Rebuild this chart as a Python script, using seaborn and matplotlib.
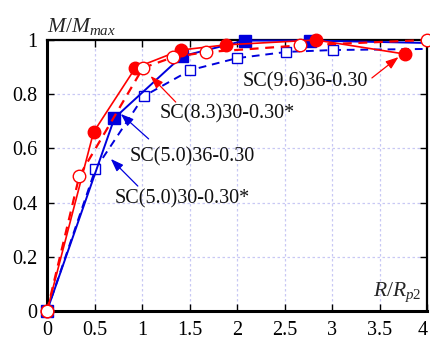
import matplotlib
matplotlib.use("Agg")
import matplotlib.pyplot as plt
import matplotlib.transforms as mtransforms
import seaborn as sns
import pandas as pd

# ---- data ----
x_96_36 = [0, 0.49, 0.93, 1.41, 1.88, 2.83, 3.77]
y_96_36 = [0, 0.66, 0.897, 0.963, 0.982, 1.0, 0.948]

x_83_30 = [0, 0.34, 1.01, 1.33, 1.67, 2.66, 4.0]
y_83_30 = [0, 0.498, 0.897, 0.937, 0.955, 0.98, 1.0]

x_50_36 = [0, 0.71, 1.42, 2.08, 2.77, 4.0]
y_50_36 = [0, 0.712, 0.94, 0.998, 0.998, 0.989]

x_50_30 = [0, 0.51, 1.02, 1.51, 2.0, 2.52, 3.01, 4.0]
y_50_30 = [0, 0.524, 0.793, 0.889, 0.933, 0.956, 0.963, 0.967]

x_ticks = [0, 0.5, 1, 1.5, 2, 2.5, 3, 3.5, 4]
x_tick_labels = ["0", "0.5", "1", "1.5", "2", "2.5", "3", "3.5", "4"]
y_ticks = [0, 0.2, 0.4, 0.6, 0.8, 1.0]
y_tick_labels = ["0", "0.2", "0.4", "0.6", "0.8", "1"]

labels = ["SC(9.6)36-0.30", "SC(8.3)30-0.30*", "SC(5.0)36-0.30", "SC(5.0)30-0.30*"]
label_pos = [(2.72, 0.845), (1.90, 0.727), (1.53, 0.568), (1.42, 0.413)]
arrow_tail = [(3.42, 0.86), (1.355, 0.771), (1.07, 0.635), (0.956, 0.461)]
arrow_head = [(3.70, 0.937), (1.09, 0.867), (0.777, 0.727), (0.672, 0.561)]
arrow_colors = ["#ff0000", "#ff0000", "#0000dd", "#0000dd"]

# ---- style ----
sns.set_style("ticks")
plt.rcParams["font.family"] = ["Liberation Serif", "DejaVu Serif"]
plt.rcParams["mathtext.fontset"] = "custom"
plt.rcParams["mathtext.it"] = "Liberation Serif:italic"
plt.rcParams["mathtext.rm"] = "Liberation Serif"

RED = "#ff0000"
BLUE = "#0000dd"

fig = plt.figure(figsize=(4.30, 3.41), dpi=100)
ax = fig.add_axes([47 / 430, 1 - 311 / 341, 380 / 430, 271 / 341])

ax.grid(True, color="#c8c8f4", linestyle=(0, (2, 2)), linewidth=0.9)
ax.set_axisbelow(True)

# SC(5.0)30-0.30* : blue open squares, dashed
df = pd.DataFrame({"x": x_50_30, "y": y_50_30})
sns.lineplot(data=df, x="x", y="y", ax=ax, sort=False, color=BLUE, lw=1.4,
             linestyle=(0, (4, 3)), marker="s", markersize=7.5,
             markerfacecolor="white", markeredgecolor=BLUE, markeredgewidth=1.0,
             markevery=list(range(len(x_50_30) - 1)), clip_on=False, zorder=3)

# SC(5.0)36-0.30 : blue filled squares, solid
df = pd.DataFrame({"x": x_50_36, "y": y_50_36})
sns.lineplot(data=df, x="x", y="y", ax=ax, sort=False, color=BLUE, lw=1.4,
             linestyle="-", marker="s", markersize=8,
             markerfacecolor=BLUE, markeredgecolor=BLUE, markeredgewidth=1.0,
             markevery=list(range(len(x_50_36) - 1)), clip_on=False, zorder=4)

# SC(8.3)30-0.30* : red open circles, dashed
df = pd.DataFrame({"x": x_83_30, "y": y_83_30})
sns.lineplot(data=df, x="x", y="y", ax=ax, sort=False, color=RED, lw=1.6,
             linestyle=(0, (4, 3)), marker="o", markersize=9,
             markerfacecolor="white", markeredgecolor=RED, markeredgewidth=1.0,
             clip_on=False, zorder=5)

# SC(9.6)36-0.30 : red filled circles, solid
df = pd.DataFrame({"x": x_96_36, "y": y_96_36})
sns.lineplot(data=df, x="x", y="y", ax=ax, sort=False, color=RED, lw=1.2,
             linestyle="-", marker="o", markersize=9,
             markerfacecolor=RED, markeredgecolor=RED, markeredgewidth=1.0,
             clip_on=False, zorder=4.5)

# annotations
for lab, pos, tail, head, c in zip(labels, label_pos, arrow_tail, arrow_head, arrow_colors):
    ax.text(pos[0], pos[1], lab, fontsize=14.5, ha="center", va="center", color="#111111",
            zorder=6)
    ax.annotate("", xy=head, xytext=tail,
                arrowprops=dict(arrowstyle="-|>,head_length=0.55,head_width=0.2",
                                color=c, lw=0.9, mutation_scale=14,
                                shrinkA=0, shrinkB=0), zorder=6)

ax.set_xlim(0, 4)
ax.set_ylim(0, 1)
ax.set_xticks(x_ticks)
ax.set_xticklabels(x_tick_labels)
ax.set_yticks(y_ticks)
ax.set_yticklabels(y_tick_labels)
ax.set_xlabel("")
ax.set_ylabel("")
ax.tick_params(axis="both", which="both", direction="in", length=5, width=1.0,
               top=True, right=True, labelsize=14.5, colors="black", pad=7)

# keep the last x tick label inside the canvas
last = ax.get_xticklabels()[-1]
last.set_transform(last.get_transform() +
                   mtransforms.ScaledTranslation(-4 / 100, 0, fig.dpi_scale_trans))

for side in ["left", "bottom"]:
    ax.spines[side].set_linewidth(2.2)
for side in ["top", "right"]:
    ax.spines[side].set_linewidth(1.6)
for s in ax.spines.values():
    s.set_color("black")
    s.set_visible(True)
    s.set_zorder(2.5)

ax.text(0.0, 1.01, r"$M/M_{max}$", transform=ax.transAxes, ha="left", va="bottom",
        fontsize=15.5)
ax.text(0.985, 0.025, r"$R/R_{p2}$", transform=ax.transAxes, ha="right", va="bottom",
        fontsize=15.5)

fig.savefig("out.png", dpi=100)
